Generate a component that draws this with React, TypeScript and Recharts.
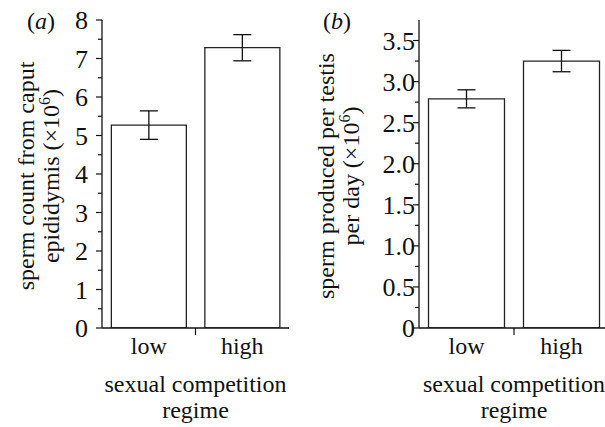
import React from "react";
import { BarChart, Bar, XAxis, YAxis, ErrorBar } from "recharts";

const regimes = ["low", "high"];
const caputCount = [5.27, 7.28];
const caputErr = [0.37, 0.34];
const dailyProduction = [2.79, 3.25];
const dailyErr = [0.11, 0.13];

const ticksA = [0, 0.5, 1, 1.5, 2, 2.5, 3, 3.5, 4, 4.5, 5, 5.5, 6, 6.5, 7, 7.5, 8];
const ticksB = [0, 0.25, 0.5, 0.75, 1, 1.25, 1.5, 1.75, 2, 2.25, 2.5, 2.75, 3, 3.25, 3.5];

const FONT = "'Liberation Serif', 'Times New Roman', serif";
const FS = 24;
const TICK_FS = 26;
const INK = "#111";
const TOP = 20;
const AXIS_Y = 328; // chart-local y of the x axis (TOP + plot height)

const dataA = regimes.map((r, i) => ({ regime: r, value: caputCount[i], err: caputErr[i] }));
const dataB = regimes.map((r, i) => ({ regime: r, value: dailyProduction[i], err: dailyErr[i] }));

const makeYTick =
  (axisX: number, gap: number, isMajor: (v: number) => boolean, fmt: (v: number) => string) =>
  // eslint-disable-next-line @typescript-eslint/no-explicit-any
  (props: any) => {
    const { y, payload } = props;
    const major = isMajor(payload.value);
    return (
      <g>
        <line x1={axisX - (major ? 6 : 4)} x2={axisX} y1={y} y2={y} stroke={INK} strokeWidth={1.2} />
        {major && (
          <text x={axisX - gap} y={y} dy="0.35em" textAnchor="end" fontFamily={FONT} fontSize={TICK_FS} fill={INK}>
            {fmt(payload.value)}
          </text>
        )}
      </g>
    );
  };

const makeXTick =
  (bandHalf: number) =>
  // eslint-disable-next-line @typescript-eslint/no-explicit-any
  (props: any) => {
    const { x, payload, index } = props;
    const half = payload.offset ?? bandHalf;
    return (
      <g>
        <text x={x} y={354} textAnchor="middle" fontFamily={FONT} fontSize={FS} fill={INK}>
          {payload.value}
        </text>
        {index === 0 && (
          <line x1={x + half} x2={x + half} y1={AXIS_Y} y2={AXIS_Y + 7} stroke={INK} strokeWidth={1.2} />
        )}
      </g>
    );
  };

// eslint-disable-next-line @typescript-eslint/no-explicit-any
const xTitle = (props: any) => {
  const vb = props.viewBox;
  const cx = vb.x + vb.width / 2;
  return (
    <text textAnchor="middle" fontFamily={FONT} fontSize={FS} fill={INK}>
      <tspan x={cx} y={392}>sexual competition</tspan>
      <tspan x={cx} y={418}>regime</tspan>
    </text>
  );
};

const makeYTitle =
  (line1: string, line2: string) =>
  // eslint-disable-next-line @typescript-eslint/no-explicit-any
  (props: any) => {
    const vb = props.viewBox;
    const cy = vb.y + vb.height / 2 + 2;
    return (
      <g fontFamily={FONT} fontSize={FS} fill={INK}>
        <text transform={`translate(34, ${cy}) rotate(-90)`} textAnchor="middle">
          {line1}
        </text>
        <text transform={`translate(59, ${cy}) rotate(-90)`} textAnchor="middle">
          {line2} (×10<tspan dy={-9} fontSize={16}>6</tspan>
          <tspan dy={9}>)</tspan>
        </text>
      </g>
    );
  };

const fmtB = (v: number) => (v === 0 ? "0" : v.toFixed(1));

const Panel: React.FC<{
  left: number;
  width: number;
  yWidth: number;
  right: number;
  data: { regime: string; value: number; err: number }[];
  domain: [number, number];
  ticks: number[];
  gap: number;
  isMajor: (v: number) => boolean;
  fmt: (v: number) => string;
  letter: string;
  letterX: number;
  title1: string;
  title2: string;
}> = (p) => {
  const plotW = p.width - p.yWidth - p.right;
  return (
    <div style={{ position: "absolute", left: p.left, top: 0, width: p.width, height: 427 }}>
      <BarChart
        width={p.width}
        height={427}
        data={p.data}
        margin={{ top: TOP, right: p.right, bottom: 0, left: 0 }}
        barCategoryGap="10%"
      >
        <XAxis
          dataKey="regime"
          height={427 - AXIS_Y}
          axisLine={{ stroke: INK, strokeWidth: 1.3 }}
          tickLine={false}
          tickSize={0}
          tick={makeXTick(plotW / 4)}
          interval={0}
          label={{ content: xTitle }}
        />
        <YAxis
          width={p.yWidth}
          domain={p.domain}
          ticks={p.ticks}
          interval={0}
          allowDataOverflow
          axisLine={{ stroke: INK, strokeWidth: 1.3 }}
          tickLine={false}
          tick={makeYTick(p.yWidth, p.gap, p.isMajor, p.fmt)}
          label={{ content: makeYTitle(p.title1, p.title2) }}
        />
        <Bar dataKey="value" fill="#fff" stroke="#222" strokeWidth={1.3} isAnimationActive={false}>
          <ErrorBar dataKey="err" width={9} stroke={INK} strokeWidth={1.3} />
        </Bar>
      </BarChart>
      <div
        style={{
          position: "absolute",
          left: p.letterX,
          top: 7,
          fontFamily: FONT,
          fontSize: FS,
          color: INK,
          lineHeight: "28px",
        }}
      >
        (<i>{p.letter}</i>)
      </div>
    </div>
  );
};

export default function App() {
  return (
    <div
      style={{
        position: "fixed",
        left: 0,
        top: 0,
        width: 605,
        height: 427,
        overflow: "hidden",
        background: "#fff",
      }}
    >
      <Panel
        left={0}
        width={300}
        yWidth={102}
        right={11}
        data={dataA}
        domain={[0, 8]}
        ticks={ticksA}
        gap={14}
        isMajor={(v) => Number.isInteger(v)}
        fmt={(v) => String(v)}
        letter="a"
        letterX={27}
        title1="sperm count from caput"
        title2="epididymis"
      />
      <Panel
        left={300}
        width={312}
        yWidth={119}
        right={3}
        data={dataB}
        domain={[0, 3.75]}
        ticks={ticksB}
        gap={4}
        isMajor={(v) => Math.abs(v * 2 - Math.round(v * 2)) < 1e-9}
        fmt={fmtB}
        letter="b"
        letterX={23}
        title1="sperm produced per testis"
        title2="per day"
      />
    </div>
  );
}
